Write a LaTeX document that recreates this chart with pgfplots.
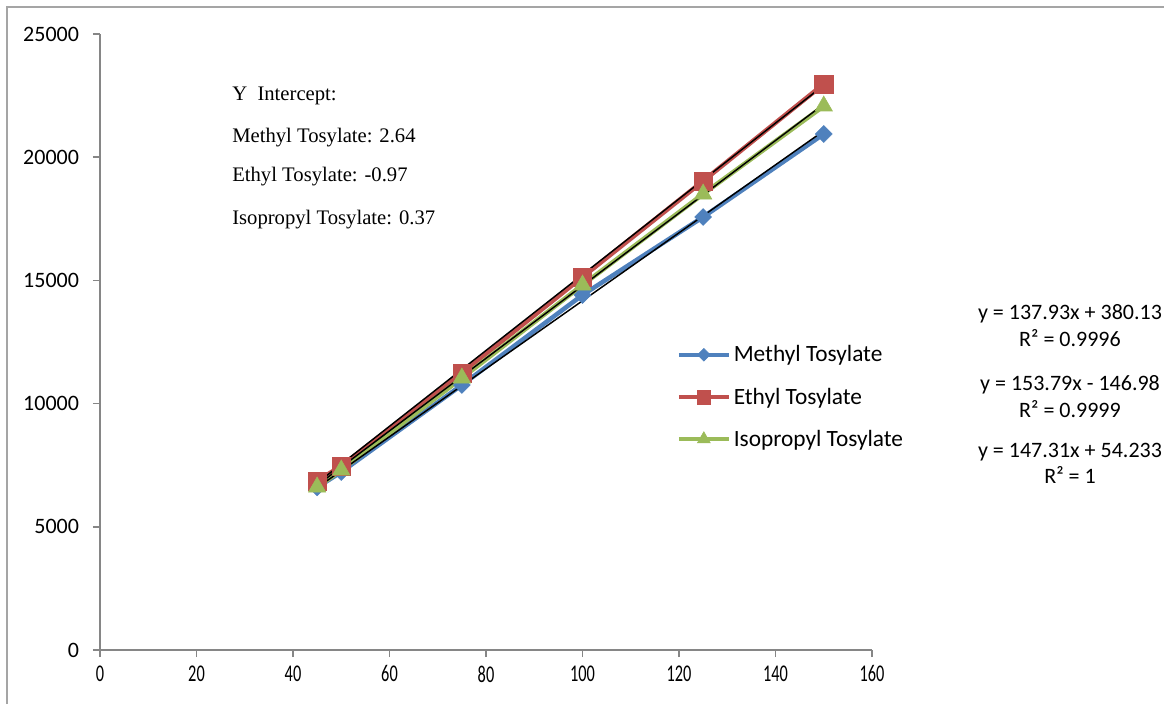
\documentclass[border=0pt]{standalone}
\usepackage{fontspec}
\setmainfont{Carlito}
\newfontfamily\tnr{Liberation Serif}
\usepackage{graphicx}
\usepackage{pgfplots}
\pgfplotsset{compat=1.18}
\definecolor{mblue}{RGB}{79,129,189}
\definecolor{ered}{RGB}{192,80,77}
\definecolor{igreen}{RGB}{155,187,89}
\definecolor{axgray}{RGB}{134,134,134}
\definecolor{framegray}{RGB}{165,165,165}
\begin{document}
\begin{tikzpicture}
\useasboundingbox (0,0) rectangle (873pt,528pt);
\draw[framegray, line width=1.5pt] (5.25pt,0) -- (5.25pt,522.75pt) -- (873pt,522.75pt);
\begin{axis}[
  at={(75pt,40.5pt)}, anchor=south west, scale only axis,
  width=579pt, height=462pt,
  xmin=0, xmax=160, ymin=0, ymax=25000,
  axis lines=left, axis line style={axgray, line width=1.1pt, -},
  xtick={0,20,...,160}, ytick={0,5000,...,25000},
  tick align=outside, major tick length=5.25pt,
  tick style={axgray, line width=1.1pt},
  scaled y ticks=false, scaled x ticks=false,
  /pgf/number format/.cd, 1000 sep={}, assume math mode=true, /pgfplots/.cd,
  yticklabel style={font=\fontsize{16.5}{18}\selectfont, xshift=-7pt},
  xticklabel style={font=\fontsize{18}{20}\selectfont, yshift=-3pt},
  xticklabel={\scalebox{0.68}[1]{\pgfmathprintnumber{\tick}}},
  legend cell align=left,
  legend style={at={(rel axis cs:0.7465,0.4107)}, anchor=west, draw=none, fill=none,
    font=\fontsize{17.5}{21}\selectfont, row sep=14pt, inner sep=0pt},
  legend image code/.code={\draw[mark repeat=2, mark phase=2, every mark/.append style={scale=0.75}]
     plot coordinates {(0pt,0pt) (18.75pt,0pt) (37.5pt,0pt)};},
]
\addplot[mblue, line width=3.4pt, mark=square*, mark size=4.5pt,
  mark options={rotate=45, solid, line width=0.4pt}]
  coordinates {(45,6600) (50,7224) (75,10755) (100,14407) (125,17573) (150,20942)};
\addlegendentry{Methyl Tosylate}
\addplot[ered, line width=3.4pt, mark=square*, mark size=6.8pt,
  mark options={solid, line width=0.4pt}]
  coordinates {(45,6859) (50,7468) (75,11242) (100,15138) (125,19034) (150,22971)};
\addlegendentry{Ethyl Tosylate}
\addplot[igreen, line width=3.4pt, mark=triangle*, mark size=7.5pt,
  mark options={solid, line width=0.4pt}]
  coordinates {(45,6615) (50,7305) (75,11039) (100,14813) (125,18506) (150,22078)};
\addlegendentry{Isopropyl Tosylate}
% linear trendlines (endpoints from the fitted equations)
\addplot[black, line width=1.1pt, forget plot] coordinates {(45,6587.0) (150,21069.6)};
\addplot[black, line width=1.1pt, forget plot] coordinates {(45,6773.6) (150,22921.5)};
\addplot[black, line width=1.1pt, forget plot] coordinates {(45,6683.2) (150,22150.7)};
\end{axis}
\begin{scope}[every node/.style={anchor=base west, inner sep=0pt, font=\tnr\fontsize{15.5}{18}\selectfont}]
\node at (174pt,452.25pt) {Y\ \ Intercept:};
\node at (174pt,420.75pt) {Methyl Tosylate: 2.64};
\node at (174pt,391.5pt) {Ethyl Tosylate: -0.97};
\node at (174pt,359.25pt) {Isopropyl Tosylate: 0.37};
\end{scope}
\begin{scope}[every node/.style={anchor=base, inner sep=0pt, font=\fontsize{16.5}{18}\selectfont}]
\node at (802.5pt,288pt) {y = 137.93x + 380.13};
\node at (802.5pt,267.75pt) {R² = 0.9996};
\node at (802.5pt,234.75pt) {y = 153.79x - 146.98};
\node at (802.5pt,214.5pt) {R² = 0.9999};
\node at (802.5pt,184.5pt) {y = 147.31x + 54.233};
\node at (802.5pt,165pt) {R² = 1};
\end{scope}
\end{tikzpicture}
\end{document}
